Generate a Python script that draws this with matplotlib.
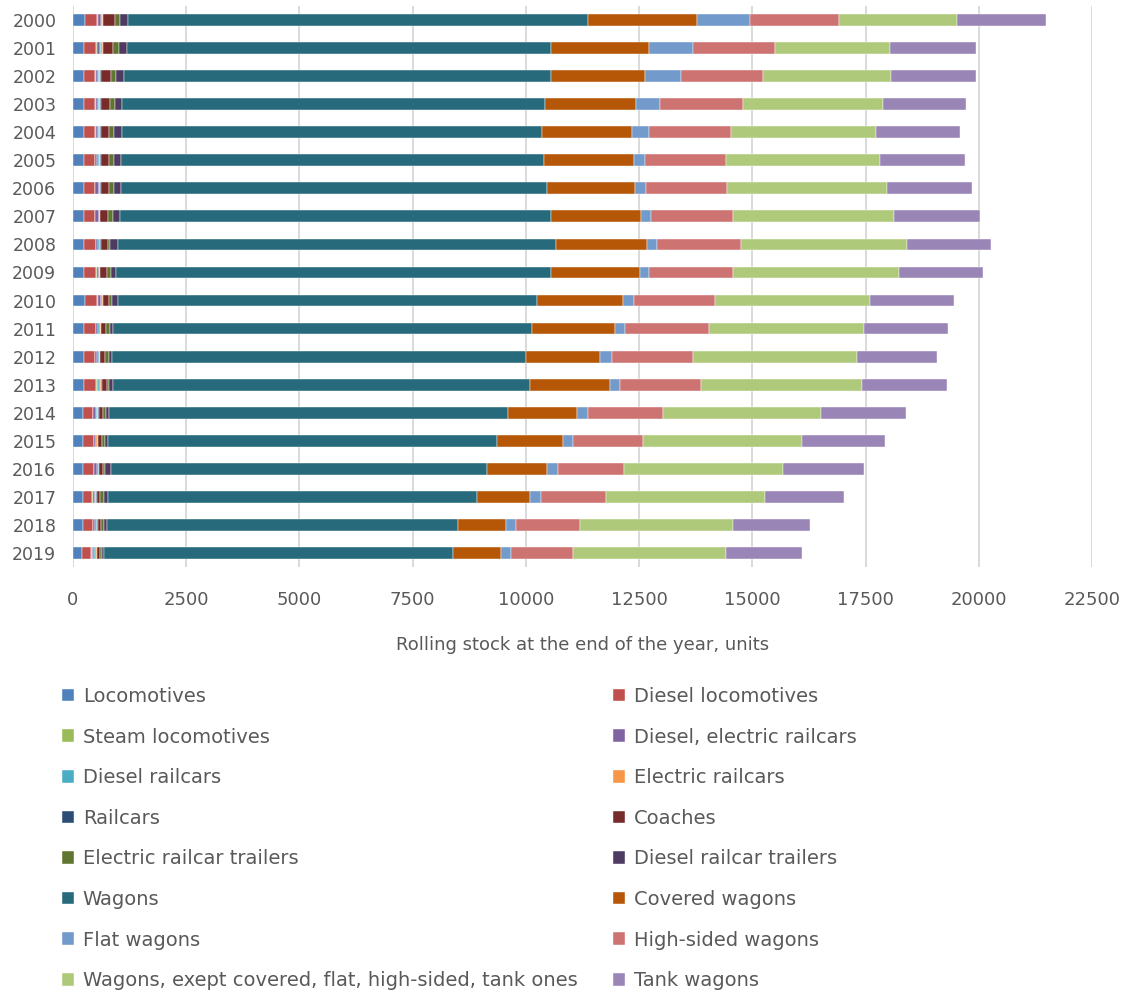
import matplotlib
matplotlib.use("Agg")
import matplotlib.pyplot as plt
import numpy as np

years = [str(y) for y in range(2000, 2020)]

# rolling stock at the end of the year, units
locomotives = [265, 250, 250, 250, 250, 250, 250, 250, 250, 250,
               272, 250, 243, 250, 221, 221, 221, 221, 221, 206]
diesel_locomotives = [272, 265, 228, 235, 228, 235, 235, 235, 250, 250,
                      265, 250, 235, 250, 221, 235, 235, 206, 221, 199]
steam_locomotives = [5, 5, 29, 22, 22, 5, 5, 5, 5, 20,
                     5, 5, 5, 29, 5, 5, 5, 5, 5, 5]
diesel_electric_railcars = [74, 74, 44, 44, 51, 44, 81, 74, 37, 44,
                            66, 51, 44, 29, 59, 44, 59, 44, 44, 37]
diesel_railcars = [15, 22, 29, 22, 29, 51, 7, 7, 44, 15,
                   15, 37, 37, 29, 22, 7, 44, 7, 29, 29]
electric_railcars = [30, 37, 22, 29, 22, 22, 29, 29, 15, 15,
                     29, 29, 29, 29, 22, 29, 7, 29, 15, 44]
railcars = [10, 3, 7, 7, 7, 7, 7, 7, 7, 7,
            7, 7, 7, 22, 15, 7, 7, 7, 7, 7]
coaches = [257, 235, 221, 206, 191, 191, 191, 162, 169, 150,
           132, 103, 103, 110, 88, 103, 74, 88, 74, 59]
electric_railcar_trailers = [110, 118, 110, 103, 110, 110, 96, 110, 51, 95,
                             74, 88, 88, 51, 74, 51, 59, 81, 59, 59]
diesel_railcar_trailers = [169, 177, 184, 169, 177, 154, 169, 169, 169, 110,
                           132, 74, 74, 74, 74, 66, 118, 88, 66, 44]
wagons = [10170, 9368, 9430, 9341, 9275, 9337, 9402, 9506, 9660, 9598,
          9241, 9240, 9130, 9224, 8804, 8601, 8319, 8145, 7767, 7702]
covered_wagons = [2405, 2169, 2073, 2008, 1985, 1979, 1935, 1992, 2014, 1963,
                  1911, 1824, 1646, 1759, 1529, 1457, 1317, 1176, 1060, 1059]
flat_wagons = [1170, 964, 788, 530, 376, 242, 249, 214, 215, 206,
               236, 221, 252, 213, 229, 213, 236, 228, 221, 214]
high_sided_wagons = [1956, 1824, 1816, 1831, 1809, 1795, 1795, 1809, 1867, 1853,
                     1794, 1868, 1794, 1801, 1655, 1551, 1470, 1449, 1405, 1375]
other_wagons = [2604, 2523, 2825, 3082, 3208, 3391, 3531, 3568, 3656, 3664,
                3429, 3428, 3634, 3553, 3509, 3508, 3501, 3501, 3382, 3369]
tank_wagons = [1964, 1897, 1875, 1839, 1845, 1883, 1877, 1882, 1869, 1853,
               1853, 1854, 1765, 1875, 1875, 1825, 1795, 1750, 1699, 1684]

series = [
    ("Locomotives", locomotives, "#4F81BD"),
    ("Diesel locomotives", diesel_locomotives, "#C0504D"),
    ("Steam locomotives", steam_locomotives, "#9BBB59"),
    ("Diesel, electric railcars", diesel_electric_railcars, "#8064A2"),
    ("Diesel railcars", diesel_railcars, "#4BACC6"),
    ("Electric railcars", electric_railcars, "#F79646"),
    ("Railcars", railcars, "#2C4D75"),
    ("Coaches", coaches, "#772C2A"),
    ("Electric railcar trailers", electric_railcar_trailers, "#5F7530"),
    ("Diesel railcar trailers", diesel_railcar_trailers, "#4D3B62"),
    ("Wagons", wagons, "#276A7C"),
    ("Covered wagons", covered_wagons, "#B65708"),
    ("Flat wagons", flat_wagons, "#729ACA"),
    ("High-sided wagons", high_sided_wagons, "#CD7371"),
    ("Wagons, exept covered, flat, high-sided, tank ones", other_wagons, "#AFC97A"),
    ("Tank wagons", tank_wagons, "#9A85B7"),
]

fig = plt.figure(figsize=(11.35, 9.94), dpi=100)
ax = fig.add_axes([73 / 1135, 1 - 567 / 994, 1019 / 1135, 561 / 994])

y = np.arange(len(years))
left = np.zeros(len(years))
handles = []
for name, vals, col in series:
    vals = np.array(vals, dtype=float)
    b = ax.barh(y, vals, left=left, height=0.42, color=col,
                edgecolor="white", linewidth=0.3, label=name, zorder=3)
    handles.append(b)
    left += vals

ax.set_xlim(0, 22500)
ax.set_ylim(len(years) - 0.5, -0.5)
ax.set_xticks(np.arange(0, 22501, 2500))
ax.set_yticks(y)
ax.set_yticklabels(years)
ax.xaxis.grid(True, color="#D9D9D9", linewidth=1.4, zorder=0)
ax.set_axisbelow(True)
for s in ax.spines.values():
    s.set_visible(False)
ax.tick_params(axis="x", length=0, pad=17, labelsize=13, labelcolor="#595959")
ax.tick_params(axis="y", length=0, pad=12, labelsize=12.5, labelcolor="#595959")
ax.set_xlabel("Rolling stock at the end of the year, units", fontsize=13,
              color="#595959", labelpad=20)

# legend in two columns, row-wise order like the original
col1 = [handles[i] for i in range(0, 16, 2)]
col2 = [handles[i] for i in range(1, 16, 2)]
for hs, x0 in [(col1, 62 / 1135), (col2, 613 / 1135)]:
    leg = fig.legend(hs, [h.get_label() for h in hs], loc="upper left",
                     bbox_to_anchor=(x0, 1 - 687 / 994), frameon=False,
                     fontsize=14, handlelength=0.62, handleheight=0.62,
                     handletextpad=0.45, labelspacing=1.11,
                     borderpad=0, borderaxespad=0)
    for t in leg.get_texts():
        t.set_color("#595959")

fig.savefig("out.png", dpi=100)
